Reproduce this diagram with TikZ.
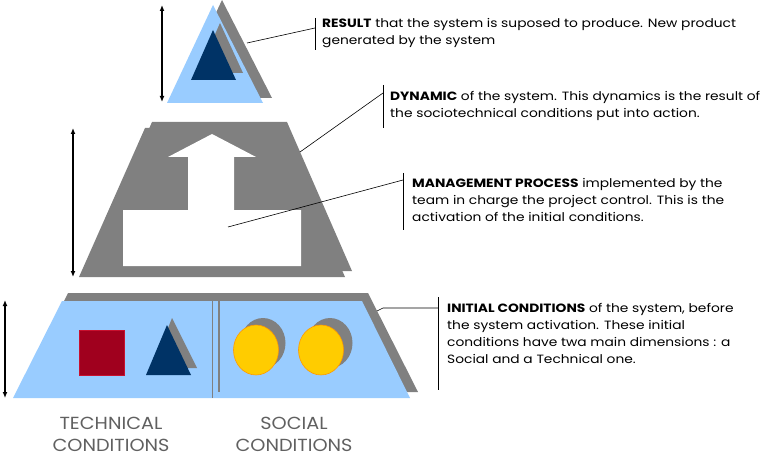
\documentclass[tikz,border=0pt]{standalone}
\usepackage{fontspec}
\setmainfont{Poppins}
\newfontfamily\descfont[FakeStretch=1.15]{Poppins}
\newfontfamily\condfont[FakeStretch=1.1]{Poppins}
\usetikzlibrary{arrows.meta}
\definecolor{lblue}{HTML}{99CCFF}
\definecolor{shgray}{HTML}{808080}
\definecolor{navy}{HTML}{003366}
\definecolor{dred}{HTML}{A0001E}
\definecolor{bred}{HTML}{C8102E}
\definecolor{yel}{HTML}{FFCC00}
\definecolor{orng}{HTML}{FF9900}
\definecolor{lbl}{HTML}{606060}
\tikzset{
  dimarrow/.style={black, line width=1.2pt, {Latex[length=6pt,width=5pt]}-{Latex[length=6pt,width=5pt]}},
  leader/.style={black, line width=0.6pt},
  bracket/.style={black, line width=0.8pt},
  desc/.style={anchor=north west, inner sep=0pt, align=left, font=\descfont\fontsize{12}{17}\selectfont, text=black},
  cond/.style={anchor=north, inner sep=0pt, align=center, font=\condfont\fontsize{17.5}{22}\selectfont, text=lbl},
  shadow/.style={fill=shgray, draw=none},
}
\begin{document}
\begin{tikzpicture}[x=1pt,y=-1pt]
\useasboundingbox (0,0) rectangle (762,457);
% ---------- top triangle (result)
\fill[shadow] (222,0) -- (272,98) -- (176,98) -- cycle;
\fill[lblue] (213,5) -- (263,103) -- (167,103) -- cycle;
\fill[shadow] (220,23) -- (243,73) -- (198,73) -- cycle;
\fill[navy] (213,30) -- (236,80) -- (191,80) -- cycle;
\coordinate (resA) at (162,5);
\coordinate (resB) at (162,102);
\draw[dimarrow] (resA) -- (resB);
% ---------- middle trapezoid (dynamic)
\fill[shadow] (152,122) -- (287,122) -- (352,271) -- (86,271) -- cycle;
\fill[shadow] (145,128) -- (280,128) -- (345,277) -- (79,277) -- cycle;
\fill[white] (123,266) -- (123,210) -- (188,210) -- (188,157) -- (168,157) -- (212,134)
  -- (256,157) -- (234,157) -- (234,210) -- (301,210) -- (301,266) -- cycle;
\coordinate (dynA) at (73,128);
\coordinate (dynB) at (73,277);
\draw[dimarrow] (dynA) -- (dynB);
% ---------- bottom trapezoid (initial conditions)
\fill[shadow] (68,293) -- (368,293) -- (418,392) -- (20,392) -- cycle;
\fill[lblue] (62,301) -- (362,301) -- (410,398) -- (13,398) -- cycle;
\draw[shgray, line width=0.8pt] (212.7,301) -- (212.7,398);
\draw[shgray, line width=2.5pt] (219,301) -- (219,392);
% red square
\fill[dred, draw=bred, line width=0.6pt] (79,330) rectangle (124,375);
% navy triangle with shadow
\fill[shadow] (172,318) -- (197,368) -- (152,368) -- cycle;
\fill[navy] (167,325) -- (191,375) -- (146,375) -- cycle;
% yellow circles with shadows
\fill[shadow] (263,343) ellipse [x radius=22.5, y radius=25];
\fill[yel, draw=orng, line width=0.6pt] (256,350) ellipse [x radius=22.5, y radius=25];
\fill[shadow] (330,343) ellipse [x radius=22.5, y radius=25];
\fill[yel, draw=orng, line width=0.6pt] (321,350) ellipse [x radius=22.5, y radius=25];
\coordinate (iniA) at (5,300);
\coordinate (iniB) at (5,398);
\draw[dimarrow] (iniA) -- (iniB);
% ---------- labels under the base
\node[cond] (tech) at (111,417) {TECHNICAL\\CONDITIONS};
\node[cond] (soc) at (294,417) {SOCIAL\\CONDITIONS};
% ---------- callouts
% result
\coordinate (rS) at (247,43);
\coordinate (rE) at (315,28);
\draw[leader] (rS) -- (rE);
\draw[bracket] (315,18) -- (315,50);
\node[desc] (resT) at (322,18) {\textbf{RESULT} that the system is suposed to produce. New product\\generated by the system};
% dynamic
\coordinate (dS) at (300,152);
\coordinate (dE) at (383,93);
\draw[leader] (dS) -- (dE);
\draw[bracket] (383,85) -- (383,128);
\node[desc] (dynT) at (390,91) {\textbf{DYNAMIC} of the system. This dynamics is the result of\\the sociotechnical conditions put into action.};
% management
\coordinate (mS) at (228,227);
\coordinate (mE) at (403,180);
\draw[leader] (mS) -- (mE);
\draw[bracket] (403,173) -- (403,230);
\node[desc] (manT) at (412,178) {\textbf{MANAGEMENT PROCESS} implemented by the\\team in charge the project control. This is the\\activation of the initial conditions.};
% initial
\coordinate (iS) at (377,311);
\coordinate (iM) at (383,308);
\coordinate (iE) at (438,308);
\draw[leader] (iS) -- (iM) -- (iE);
\draw[bracket] (438,297) -- (438,390);
\node[desc] (iniT) at (447,303) {\textbf{INITIAL CONDITIONS} of the system, before\\the system activation. These initial\\conditions have twa main dimensions : a\\Social and a Technical one.};
\end{tikzpicture}
\end{document}
